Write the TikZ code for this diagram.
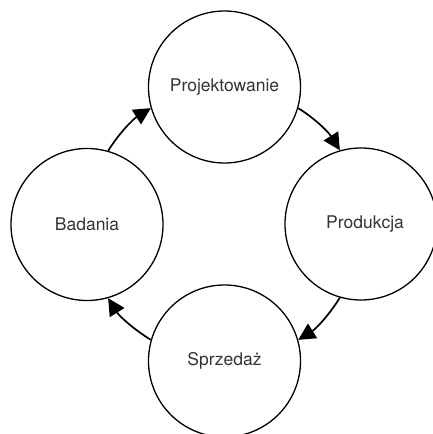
\documentclass[tikz,border=0pt]{standalone}
\usepackage{fontspec}
\setmainfont{TeX Gyre Heros}
\usetikzlibrary{arrows.meta}
\begin{document}
\begin{tikzpicture}[x=1pt,y=1pt,
  stage/.style={draw, circle, minimum size=152pt, inner sep=0pt, line width=1.3pt,
    font=\fontsize{17.5}{20}\selectfont, text=black!80},
  flow/.style={line width=1.7pt, -{Triangle[length=17pt,width=17pt]}, distance=21pt}]
\useasboundingbox (0,0) rectangle (433,434);
\clip (0,0) rectangle (433,434);
\node[stage] (top) at (224.5,347) {Projektowanie};
\node[stage] (right) at (361,210) {\hspace*{8pt}Produkcja};
\node[stage] (bottom) at (224.5,73) {Sprzedaż};
\node[stage] (left) at (87,209.5) {Badania};
\draw[flow] (left.74) to[out=58, in=212] (top.196);
\draw[flow] (top.344) to[out=-32, in=122] (right.106);
\draw[flow] (right.254) to[out=-122, in=32] (bottom.16);
\draw[flow] (bottom.164) to[out=148, in=-58] (left.286);
\end{tikzpicture}
\end{document}
